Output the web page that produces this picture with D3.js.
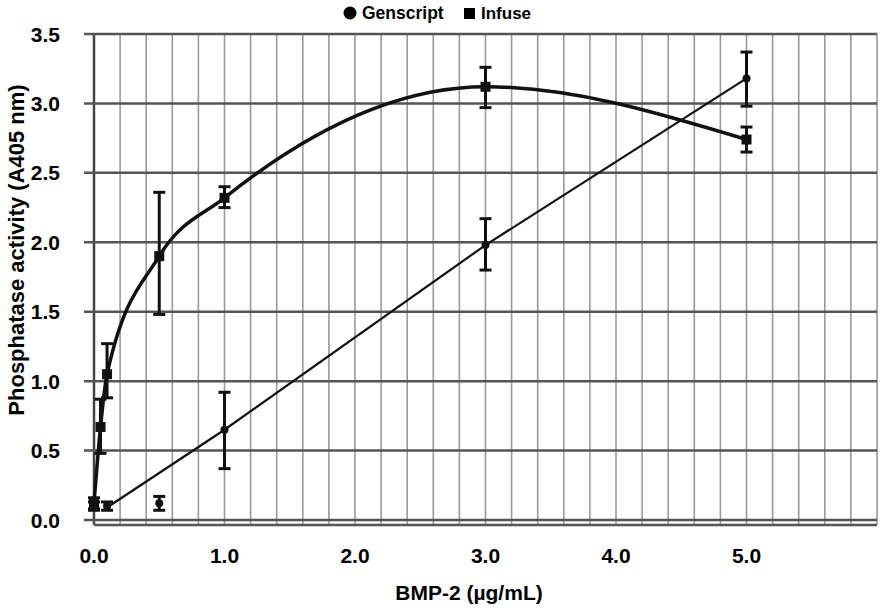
<!DOCTYPE html>
<meta charset="utf-8">
<style>
  body { margin: 0; background: #fff; }
  text { font-family: "Liberation Sans", Arial, sans-serif; font-weight: bold; fill: #000; }
  .hgrid { stroke: #555; stroke-width: 2.5; }
  .vgrid { stroke: #9a9a9a; stroke-width: 1.6; }
  .err { stroke: #111; stroke-width: 3; fill: none; }
  .curve { fill: none; stroke: #111; stroke-width: 3.5; }
  .trend { fill: none; stroke: #111; stroke-width: 2.2; }
</style>
<body>
<script src="https://cdn.jsdelivr.net/npm/d3@7"></script>
<script>

  var width = 884,
    height = 610,
    margin = {top: 34, right: 7, bottom: 90, left: 94};

  // BMP-2 doses (µg/mL)
  var infuseDose = [0, 0.05, 0.1, 0.5, 1.0, 3.0, 5.0];
  var infuseMean = [0.12, 0.67, 1.05, 1.90, 2.32, 3.12, 2.74];
  var infuseLow  = [0.08, 0.48, 0.88, 1.48, 2.25, 2.97, 2.65];
  var infuseHigh = [0.16, 0.87, 1.27, 2.36, 2.40, 3.26, 2.83];

  var genDose = [0, 0.1, 0.5, 1.0, 3.0, 5.0];
  var genMean = [0.10, 0.10, 0.12, 0.65, 1.98, 3.18];
  var genLow  = [0.07, 0.07, 0.07, 0.37, 1.80, 2.98];
  var genHigh = [0.13, 0.13, 0.17, 0.92, 2.17, 3.37];

  // straight line drawn for Genscript (skips the 0.5 point)
  var genLineDose = [0.1, 1.0, 3.0, 5.0];
  var genLineVal  = [0.09, 0.65, 1.98, 3.18];

  var xTicks = [0, 1, 2, 3, 4, 5];
  var yTicks = [0, 0.5, 1.0, 1.5, 2.0, 2.5, 3.0, 3.5];

  var svg = d3.select("body").append("svg")
    .attr("width", width)
    .attr("height", height);

  var x = d3.scaleLinear().domain([0, 6]).range([margin.left, width - margin.right]);
  var y = d3.scaleLinear().domain([0, 3.5]).range([520, margin.top]);

  // vertical grid every 0.2
  svg.selectAll(".vgrid")
    .data(d3.range(0, 31).map(function (i) { return i * 0.2; }))
    .enter().append("line")
    .attr("class", "vgrid")
    .attr("x1", function (d) { return x(d); })
    .attr("x2", function (d) { return x(d); })
    .attr("y1", y(3.5))
    .attr("y2", y(0) + 5)
    .style("stroke", function (d, i) { return i === 0 ? "#444" : null; })
    .style("stroke-width", function (d, i) { return i === 0 ? 2.5 : null; });

  svg.selectAll(".hgrid")
    .data(yTicks)
    .enter().append("line")
    .attr("class", "hgrid")
    .attr("x1", x(0) - 10)
    .attr("x2", x(6))
    .attr("y1", function (d) { return y(d); })
    .attr("y2", function (d) { return y(d); });

  // bottom axis line (double line look)
  svg.append("line")
    .attr("class", "hgrid")
    .attr("x1", x(0))
    .attr("x2", x(6))
    .attr("y1", y(0) + 5)
    .attr("y2", y(0) + 5);

  svg.selectAll(".ytick")
    .data(yTicks)
    .enter().append("text")
    .attr("class", "ytick")
    .attr("x", 60)
    .attr("y", function (d) { return y(d); })
    .attr("dy", "0.36em")
    .attr("text-anchor", "end")
    .style("font-size", "21px")
    .text(function (d) { return d3.format(".1f")(d); });

  svg.selectAll(".xtick")
    .data(xTicks)
    .enter().append("text")
    .attr("class", "xtick")
    .attr("x", function (d) { return x(d); })
    .attr("y", 563)
    .attr("text-anchor", "middle")
    .style("font-size", "21px")
    .text(function (d) { return d3.format(".1f")(d); });

  svg.append("text")
    .attr("x", 469)
    .attr("y", 600)
    .attr("text-anchor", "middle")
    .style("font-size", "21px")
    .text("BMP-2 (µg/mL)");

  svg.append("text")
    .attr("transform", "translate(24,250) rotate(-90)")
    .attr("text-anchor", "middle")
    .style("font-size", "22px")
    .text("Phosphatase activity (A405 nm)");

  // legend
  svg.append("circle").attr("cx", 350).attr("cy", 13).attr("r", 6.5).attr("fill", "#000");
  svg.append("text").attr("x", 362).attr("y", 19).style("font-size", "17.5px").text("Genscript");
  svg.append("rect").attr("x", 464).attr("y", 8).attr("width", 11).attr("height", 11).attr("fill", "#000");
  svg.append("text").attr("x", 481).attr("y", 19).style("font-size", "17px").text("Infuse");

  var infuse = infuseDose.map(function (d, i) {
    return {x: d, y: infuseMean[i], lo: infuseLow[i], hi: infuseHigh[i]};
  });
  var gen = genDose.map(function (d, i) {
    return {x: d, y: genMean[i], lo: genLow[i], hi: genHigh[i]};
  });
  var genLine = genLineDose.map(function (d, i) { return {x: d, y: genLineVal[i]}; });

  var smooth = d3.line()
    .x(function (d) { return x(d.x); })
    .y(function (d) { return y(d.y); })
    .curve(d3.curveMonotoneX);

  var straight = d3.line()
    .x(function (d) { return x(d.x); })
    .y(function (d) { return y(d.y); });

  svg.append("path").datum(infuse).attr("class", "curve").attr("d", smooth);
  svg.append("path").datum(genLine).attr("class", "trend").attr("d", straight);

  function errorBars(data) {
    var g = svg.append("g");
    g.selectAll(".v").data(data).enter().append("line")
      .attr("class", "err")
      .attr("x1", function (d) { return x(d.x); })
      .attr("x2", function (d) { return x(d.x); })
      .attr("y1", function (d) { return y(d.lo); })
      .attr("y2", function (d) { return y(d.hi); });
    ["lo", "hi"].forEach(function (k) {
      g.selectAll(".c" + k).data(data).enter().append("line")
        .attr("class", "err")
        .attr("x1", function (d) { return x(d.x) - 6; })
        .attr("x2", function (d) { return x(d.x) + 6; })
        .attr("y1", function (d) { return y(d[k]); })
        .attr("y2", function (d) { return y(d[k]); });
    });
  }
  errorBars(infuse);
  errorBars(gen);

  svg.selectAll(".sq").data(infuse).enter().append("rect")
    .attr("x", function (d) { return x(d.x) - 5; })
    .attr("y", function (d) { return y(d.y) - 5; })
    .attr("width", 10)
    .attr("height", 10)
    .attr("fill", "#111");

  svg.selectAll(".dot").data(gen).enter().append("circle")
    .attr("cx", function (d) { return x(d.x); })
    .attr("cy", function (d) { return y(d.y); })
    .attr("r", 4)
    .attr("fill", "#111");

</script>
</body>
